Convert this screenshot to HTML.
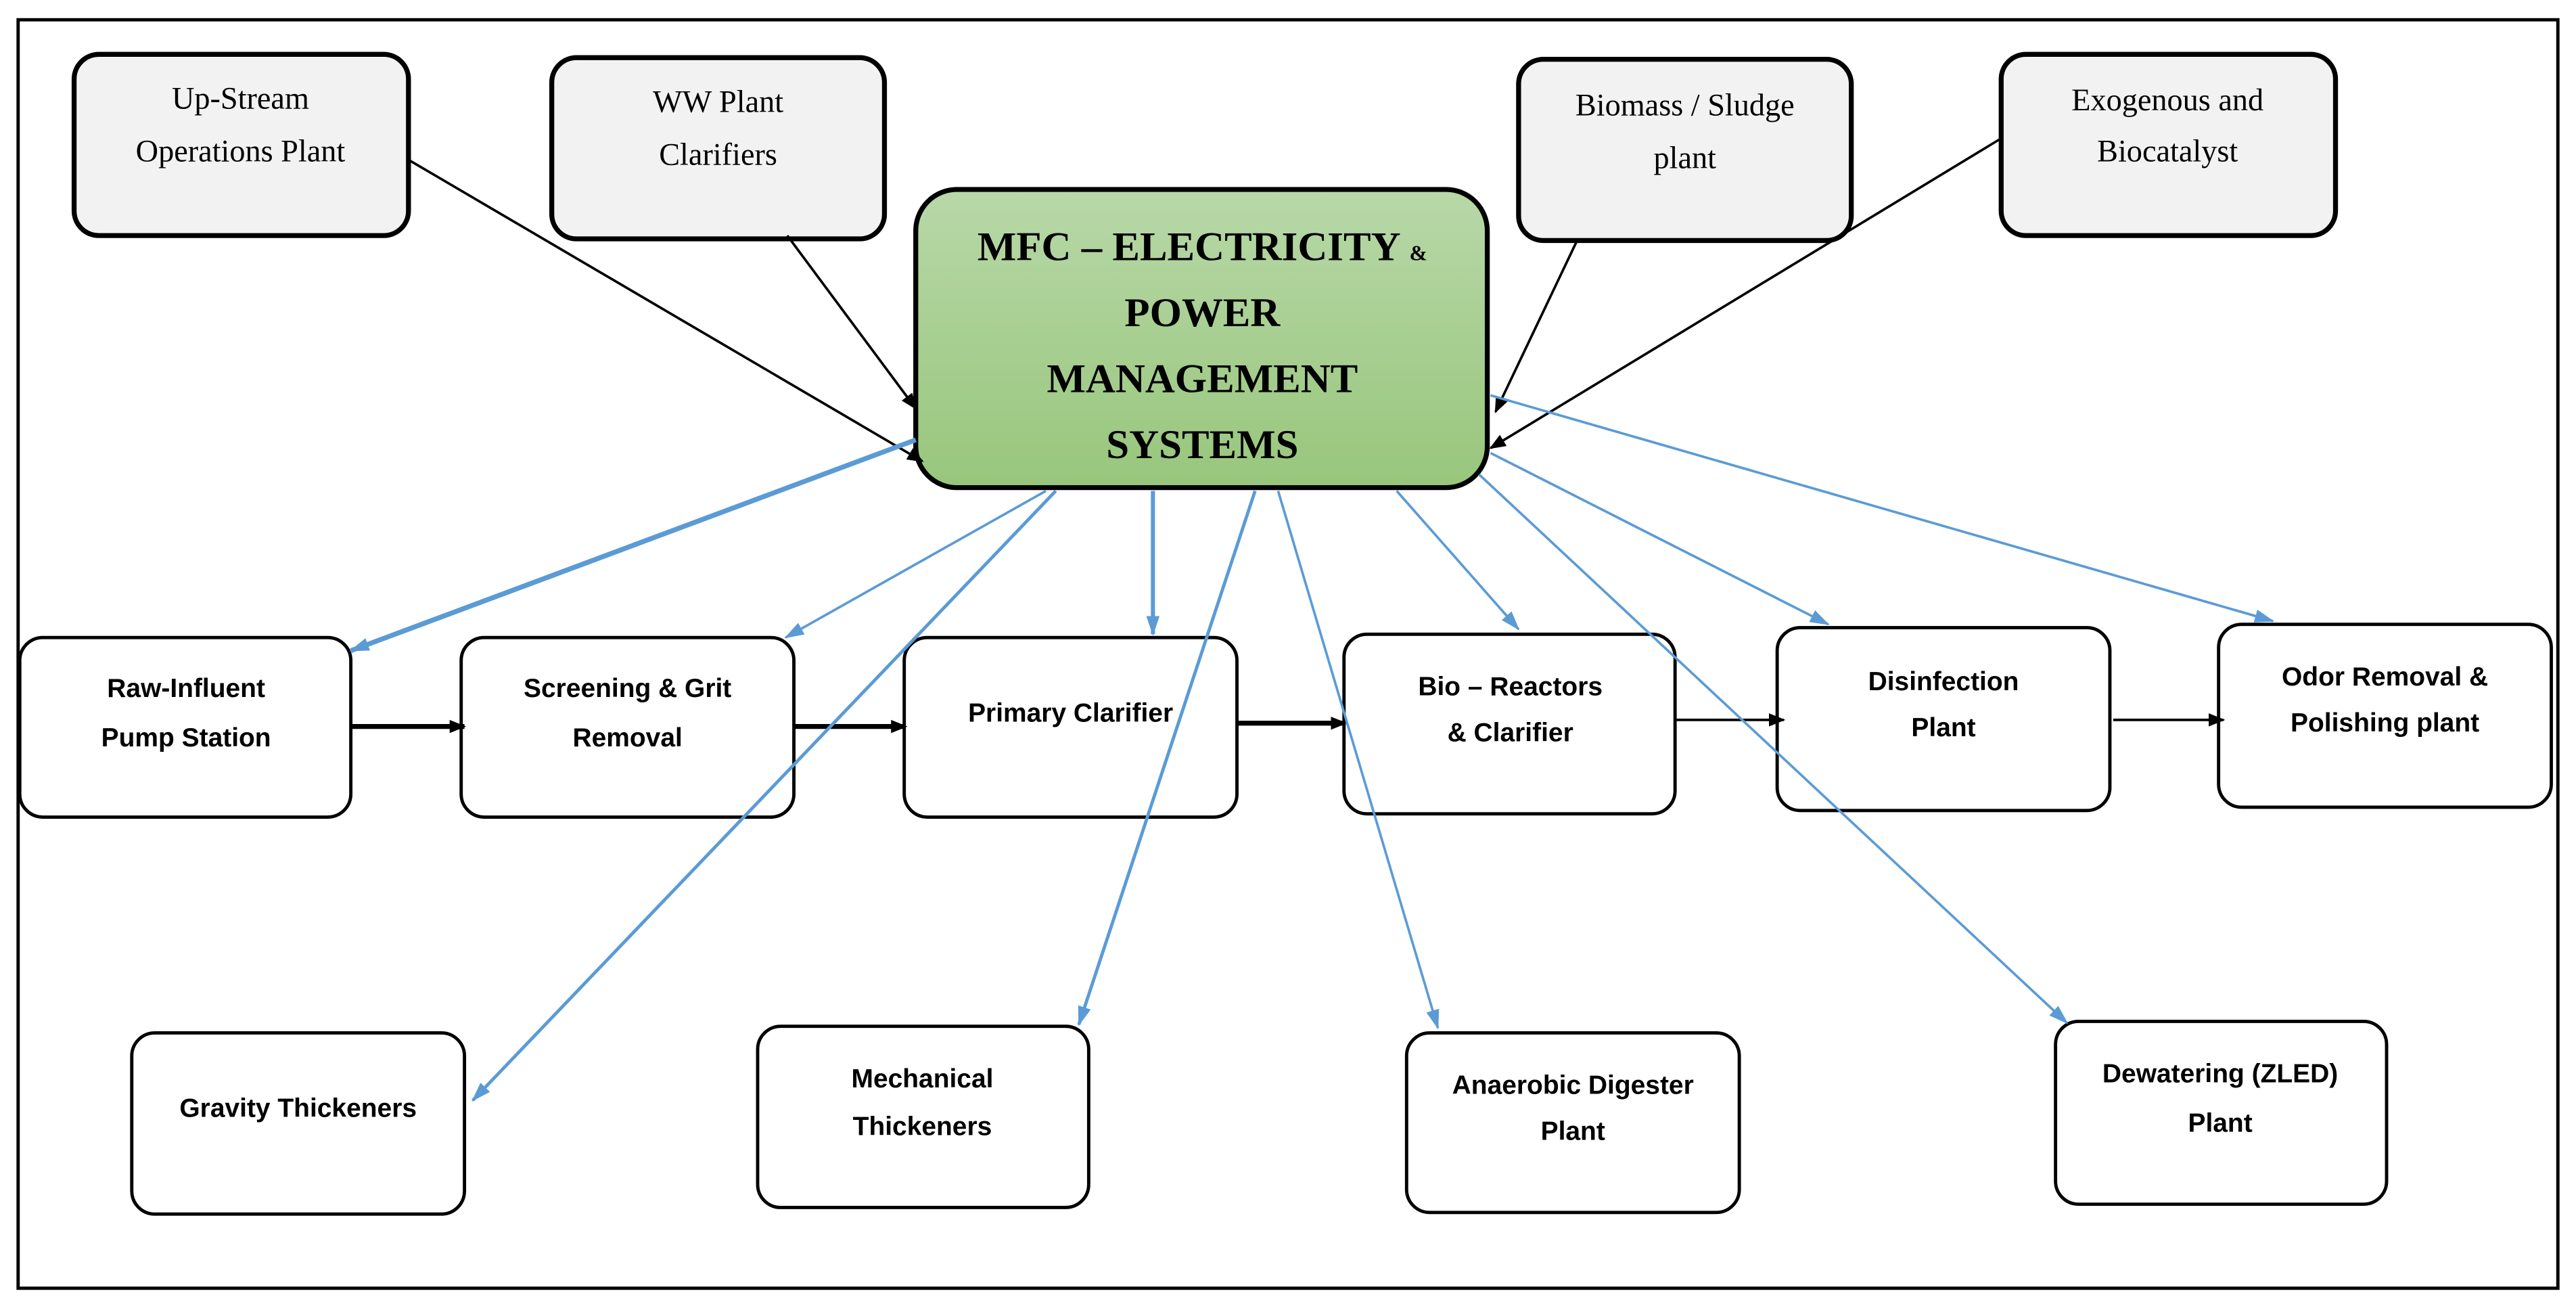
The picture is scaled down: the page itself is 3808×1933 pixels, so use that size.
<!DOCTYPE html>
<html><head><meta charset="utf-8"><style>html,body{margin:0;padding:0;background:#fff}svg{display:block}</style></head>
<body>
<svg width="3808" height="1933" viewBox="0 0 1564 794" preserveAspectRatio="none" xmlns="http://www.w3.org/2000/svg">
<defs>
<linearGradient id="g" x1="0" y1="0" x2="0" y2="1"><stop offset="0" stop-color="#b8d8a8"/><stop offset="1" stop-color="#98c67c"/></linearGradient>
<marker id="ab" markerWidth="10" markerHeight="10" refX="9" refY="5" orient="auto" markerUnits="userSpaceOnUse"><path d="M0,1 L10,5 L0,9 z" fill="#000"/></marker>
<marker id="bl" markerWidth="12" markerHeight="10" refX="11" refY="5" orient="auto" markerUnits="userSpaceOnUse"><path d="M0,1 L12,5 L0,9 z" fill="#5b9bd5"/></marker>
</defs>
<rect x="11" y="12" width="1542" height="770" fill="#fff" stroke="#000" stroke-width="2"/>
<g stroke="#000" stroke-width="3">
<rect x="45" y="33" width="203" height="110" rx="15" fill="#f2f2f2"/>
<rect x="335" y="35" width="202" height="110" rx="15" fill="#f2f2f2"/>
<rect x="922" y="36" width="202" height="110" rx="15" fill="#f2f2f2"/>
<rect x="1215" y="33" width="203" height="110" rx="15" fill="#f2f2f2"/>
<rect x="556" y="115" width="347" height="181" rx="25" fill="url(#g)"/>
</g>
<g stroke="#000" stroke-width="2" fill="#fff">
<rect x="12" y="387" width="201" height="109" rx="14"/>
<rect x="280" y="387" width="202" height="109" rx="14"/>
<rect x="549" y="387" width="202" height="109" rx="14"/>
<rect x="816" y="385" width="201" height="109" rx="14"/>
<rect x="1079" y="381" width="202" height="111" rx="14"/>
<rect x="1347" y="379" width="202" height="111" rx="14"/>
<rect x="80" y="627" width="202" height="110" rx="14"/>
<rect x="460" y="623" width="201" height="110" rx="14"/>
<rect x="854" y="627" width="202" height="109" rx="14"/>
<rect x="1248" y="620" width="201" height="111" rx="14"/>
</g>
<g stroke="#000" fill="none" marker-end="url(#ab)">
<line x1="248" y1="97" x2="560" y2="280" stroke-width="1.5"/>
<line x1="478" y1="143" x2="556" y2="248" stroke-width="1.5"/>
<line x1="958" y1="145" x2="908" y2="250" stroke-width="1.5"/>
<line x1="1215" y1="84" x2="905" y2="272" stroke-width="1.5"/>
<line x1="213" y1="441" x2="282" y2="441" stroke-width="3"/>
<line x1="482" y1="441" x2="550" y2="441" stroke-width="3"/>
<line x1="751" y1="439" x2="817" y2="439" stroke-width="3"/>
<line x1="1017" y1="437" x2="1083" y2="437" stroke-width="1.5"/>
<line x1="1283" y1="437" x2="1350" y2="437" stroke-width="1.5"/>
</g>
<g stroke="#5b9bd5" fill="none" marker-end="url(#bl)" stroke-width="1.5">
<line x1="556" y1="267" x2="213" y2="395" stroke-width="3"/>
<line x1="635" y1="298" x2="477" y2="387"/>
<line x1="641" y1="298" x2="287" y2="668" stroke-width="2"/>
<line x1="700" y1="298" x2="700" y2="385" stroke-width="2.5"/>
<line x1="762" y1="298" x2="655" y2="622" stroke-width="2"/>
<line x1="776" y1="298" x2="873" y2="624"/>
<line x1="848" y1="298" x2="922" y2="382"/>
<line x1="898" y1="288" x2="1255" y2="621"/>
<line x1="905" y1="275" x2="1110" y2="379"/>
<line x1="905" y1="240" x2="1380" y2="377"/>
</g>
<g font-family="Liberation Serif, serif" font-size="19" text-anchor="middle" fill="#000">
<text x="146" y="66">Up-Stream</text><text x="146" y="98">Operations Plant</text>
<text x="436" y="68">WW Plant</text><text x="436" y="100">Clarifiers</text>
<text x="1023" y="70">Biomass / Sludge</text><text x="1023" y="102">plant</text>
<text x="1316" y="67">Exogenous and</text><text x="1316" y="98">Biocatalyst</text>
</g>
<g font-family="Liberation Serif, serif" font-size="25" font-weight="bold" text-anchor="middle">
<text x="730" y="158">MFC – ELECTRICITY <tspan font-size="13">&amp;</tspan></text>
<text x="730" y="198">POWER</text>
<text x="730" y="238">MANAGEMENT</text>
<text x="730" y="278">SYSTEMS</text>
</g>
<g font-family="Liberation Sans, sans-serif" font-size="16" font-weight="bold" text-anchor="middle">
<text x="113" y="423">Raw-Influent</text><text x="113" y="453">Pump Station</text>
<text x="381" y="423">Screening &amp; Grit</text><text x="381" y="453">Removal</text>
<text x="650" y="438">Primary Clarifier</text>
<text x="917" y="422">Bio – Reactors</text><text x="917" y="450">&amp; Clarifier</text>
<text x="1180" y="419">Disinfection</text><text x="1180" y="447">Plant</text>
<text x="1448" y="416">Odor Removal &amp;</text><text x="1448" y="444">Polishing plant</text>
<text x="181" y="678">Gravity Thickeners</text>
<text x="560" y="660">Mechanical</text><text x="560" y="689">Thickeners</text>
<text x="955" y="664">Anaerobic Digester</text><text x="955" y="692">Plant</text>
<text x="1348" y="657">Dewatering (ZLED)</text><text x="1348" y="687">Plant</text>
</g>
</svg>
</body></html>
